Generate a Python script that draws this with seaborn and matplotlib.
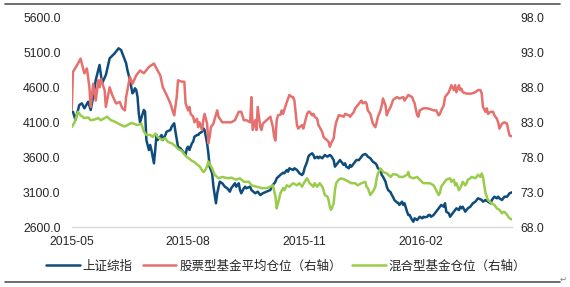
import pandas as pd
import matplotlib
matplotlib.use('Agg')
import matplotlib.pyplot as plt
import seaborn as sns
from matplotlib.lines import Line2D

# ---------------- data ----------------
start_date = '2015-05-01'

index_days = [1, 3, 6, 8, 10, 13, 15, 17, 19, 22, 24, 27, 30, 34, 37, 39, 40, 43, 44, 46, 48, 49, 50, 51, 52, 53, 54,
              57, 58, 59, 61, 62, 63, 65, 66, 67, 68, 70, 71, 72, 74, 75, 78, 79, 81, 82, 84, 86, 88, 90, 91, 92, 93,
              95, 96, 97, 99, 100, 101, 103, 104, 105, 107, 108, 109, 111, 112, 114, 115, 117, 119, 121, 123, 125,
              126, 128, 129, 130, 132, 133, 134, 136, 137, 138, 141, 142, 145, 147, 149, 151, 154, 157, 158, 161,
              162, 165, 167, 168, 170, 171, 172, 175, 176, 178, 179, 180, 182, 183, 184, 186, 187, 188, 190, 191,
              192, 194, 195, 196, 198, 199, 200, 202, 204, 205, 207, 208, 209, 211, 212, 213, 215, 216, 217, 219,
              220, 221, 223, 224, 225, 227, 228, 229, 230, 232, 233, 234, 236, 237, 238, 240, 241, 242, 244, 245,
              246, 248, 249, 250, 252, 253, 254, 255, 257, 258, 259, 261, 262, 263, 265, 266, 267, 269, 270, 271,
              273, 274, 275, 277, 278, 279, 281, 282, 283, 284, 286, 287, 288, 290, 291, 292, 294, 295, 296, 298,
              299, 300, 302, 303, 304, 306, 307, 308, 309, 311, 312, 313, 315, 316, 317, 319, 320, 321, 323, 324,
              325, 327, 328, 329, 331, 332, 333, 334, 336, 337, 338, 340, 341, 342, 344, 345, 346, 348]
index_vals = [4251, 4133, 4347, 4371, 4300, 4394, 4276, 4466, 4704, 4919, 4657, 4776, 5014, 5086, 5157, 5133, 5086,
              4943, 4847, 4704, 4514, 4537, 4586, 4561, 4466, 4229, 4100, 4276, 4251, 3847, 3704, 3776, 3704, 3514,
              3704, 3919, 3847, 3894, 3919, 3847, 3919, 3966, 3990, 4037, 4086, 3966, 3751, 3728, 3680, 3633, 3728,
              3751, 3704, 3800, 3823, 3894, 3919, 3919, 3943, 3966, 4014, 3990, 3800, 3657, 3466, 3371, 3180, 2943,
              3086, 3251, 3229, 3180, 3157, 3109, 3157, 3204, 3229, 3180, 3229, 3133, 3086, 3157, 3180, 3157, 3180,
              3133, 3086, 3109, 3061, 3086, 3109, 3133, 3180, 3251, 3300, 3350, 3380, 3371, 3419, 3394, 3443, 3419,
              3443, 3419, 3394, 3371, 3347, 3371, 3443, 3537, 3609, 3633, 3657, 3633, 3586, 3609, 3586, 3609, 3586,
              3609, 3633, 3609, 3633, 3619, 3561, 3466, 3490, 3537, 3561, 3537, 3490, 3514, 3466, 3443, 3490, 3466,
              3514, 3537, 3561, 3561, 3586, 3609, 3633, 3647, 3633, 3609, 3586, 3561, 3537, 3514, 3490, 3443, 3419,
              3347, 3323, 3251, 3180, 3133, 3100, 3061, 3030, 2990, 2955, 2950, 2920, 2966, 2919, 2943, 2823, 2776,
              2776, 2704, 2680, 2728, 2704, 2728, 2751, 2728, 2751, 2743, 2751, 2776, 2776, 2751, 2776, 2800, 2823,
              2871, 2894, 2919, 2894, 2943, 2823, 2800, 2751, 2776, 2823, 2847, 2871, 2847, 2894, 2871, 2894, 2823,
              2847, 2871, 2894, 2919, 2943, 2966, 2990, 3014, 3000, 2990, 2966, 2990, 2980, 2966, 2943, 2990, 3014,
              3037, 3014, 3037, 3014, 2990, 3014, 3037, 3037, 3061, 3086, 3100]

stock_days = [0, 1, 5, 7, 10, 12, 14, 15, 17, 19, 21, 22, 23, 26, 27, 30, 32, 35, 38, 40, 42, 43, 46, 48, 51, 54, 57,
              61, 65, 67, 70, 72, 75, 78, 80, 81, 83, 84, 87, 89, 90, 92, 93, 94, 96, 97, 99, 100, 101, 103, 104, 105,
              107, 108, 109, 110, 112, 113, 115, 116, 119, 122, 126, 129, 132, 134, 136, 138, 141, 142, 143, 145, 146,
              147, 148, 149, 150, 151, 154, 157, 159, 160, 161, 162, 163, 165, 166, 167, 170, 171, 172, 174, 175,
              176, 178, 179, 180, 182, 183, 186, 187, 188, 190, 191, 192, 194, 195, 196, 198, 199, 200, 202, 203,
              204, 205, 207, 208, 209, 211, 212, 215, 216, 219, 220, 223, 224, 225, 228, 229, 230, 232, 233, 234,
              236, 237, 238, 240, 241, 242, 244, 245, 246, 248, 249, 250, 252, 253, 254, 257, 259, 262, 263, 266,
              269, 270, 271, 273, 274, 275, 278, 281, 283, 286, 288, 290, 291, 292, 294, 295, 298, 299, 300, 302,
              303, 304, 306, 307, 308, 309, 312, 316, 319, 321, 323, 324, 325, 327, 328, 329, 331, 333, 334, 336,
              337, 338, 340, 342, 344, 345, 346, 348]
stock_vals = [84.8, 90.2, 91.4, 92.1, 90.0, 90.7, 88.0, 85.2, 88.5, 86.1, 89.0, 88.0, 89.2, 87.6, 85.2, 88.0, 86.9,
              85.7, 85.9, 85.0, 84.7, 86.6, 89.5, 88.5, 89.7, 90.4, 90.0, 90.9, 91.4, 90.7, 89.7, 88.0, 86.9, 85.7,
              84.5, 84.0, 86.6, 89.0, 88.8, 88.8, 85.7, 84.7, 85.2, 84.2, 83.8, 83.0, 83.5, 82.3, 83.0, 81.9, 83.3,
              84.2, 82.8, 80.0, 80.9, 82.3, 82.8, 83.5, 84.7, 83.8, 83.0, 83.0, 83.0, 83.3, 84.5, 84.5, 83.3, 83.3,
              83.0, 86.6, 81.9, 83.3, 81.9, 85.2, 83.8, 82.3, 81.9, 82.8, 83.3, 83.8, 82.3, 80.9, 80.4, 83.3, 84.0,
              84.1, 84.7, 84.2, 85.9, 86.4, 86.9, 86.6, 86.6, 86.1, 82.6, 82.1, 82.3, 82.6, 82.1, 84.2, 84.5, 84.5,
              84.0, 84.2, 83.8, 83.5, 82.6, 82.3, 81.6, 80.9, 80.7, 80.4, 80.2, 79.5, 80.0, 80.7, 82.1, 83.0, 84.0,
              84.0, 83.8, 84.2, 84.0, 83.8, 84.5, 85.0, 85.2, 85.9, 86.1, 85.7, 85.9, 85.7, 84.7, 84.2, 83.5, 82.8,
              82.3, 83.0, 83.8, 84.7, 85.4, 86.4, 85.4, 84.0, 84.5, 85.2, 85.7, 86.2, 86.6, 86.4, 86.6, 86.1, 86.9,
              86.6, 86.1, 85.7, 84.0, 83.8, 84.7, 85.0, 85.0, 84.9, 84.7, 84.7, 84.0, 84.2, 84.7, 85.4, 86.6, 87.3,
              87.8, 88.3, 87.6, 88.3, 87.3, 88.3, 87.6, 87.8, 87.3, 87.1, 87.1, 87.3, 87.6, 87.6, 87.1, 85.2, 84.5,
              85.0, 84.2, 84.5, 84.5, 84.0, 83.5, 83.0, 82.1, 82.8, 83.0, 82.8, 81.9, 81.1, 81.0]

mixed_days = [0, 2, 5, 7, 10, 13, 15, 18, 21, 23, 26, 28, 31, 34, 36, 39, 42, 44, 47, 49, 52, 55, 57, 59, 62, 64, 66,
              68, 71, 74, 76, 79, 82, 84, 87, 90, 92, 95, 97, 99, 101, 104, 105, 107, 108, 111, 113, 116, 119, 121,
              124, 126, 130, 133, 136, 140, 142, 146, 150, 154, 157, 159, 161, 162, 163, 165, 167, 168, 170, 172,
              175, 178, 180, 182, 184, 186, 188, 191, 192, 194, 196, 198, 199, 200, 202, 203, 204, 205, 207, 208,
              209, 211, 213, 216, 219, 221, 224, 226, 229, 232, 233, 234, 236, 237, 238, 240, 241, 242, 244, 245,
              246, 249, 252, 254, 257, 259, 262, 265, 266, 267, 270, 273, 275, 278, 281, 283, 286, 288, 290, 291,
              292, 294, 296, 299, 300, 302, 303, 304, 306, 307, 308, 309, 311, 312, 313, 315, 316, 319, 320, 321,
              323, 324, 325, 326, 327, 328, 329, 332, 334, 336, 338, 340, 341, 342, 344, 345, 346, 348]
mixed_vals = [82.3, 82.9, 84.5, 84.0, 83.6, 83.7, 83.3, 83.4, 83.6, 83.3, 83.6, 83.8, 83.3, 83.1, 82.9, 82.6, 82.4,
              82.6, 82.9, 82.8, 82.6, 82.8, 81.7, 81.2, 81.2, 80.9, 81.4, 80.9, 80.5, 80.7, 80.2, 80.0, 79.6, 79.2,
              78.9, 78.2, 77.9, 77.5, 77.3, 77.0, 76.7, 75.9, 76.0, 76.7, 77.4, 76.4, 75.5, 75.0, 75.2, 75.1, 75.0,
              75.1, 74.8, 75.0, 74.5, 74.5, 74.0, 73.8, 73.6, 73.6, 73.8, 74.0, 72.4, 70.7, 71.4, 72.9, 73.6, 73.3,
              74.0, 73.8, 74.3, 74.0, 74.3, 73.8, 74.5, 75.0, 74.3, 73.8, 74.3, 73.8, 74.3, 73.8, 73.3, 72.6, 72.4,
              71.9, 70.9, 70.5, 71.4, 73.3, 74.3, 74.8, 75.0, 74.8, 74.5, 74.3, 74.3, 74.0, 74.3, 74.5, 73.8, 73.6,
              72.6, 72.9, 73.1, 73.8, 75.0, 75.7, 76.4, 76.2, 75.9, 75.7, 75.2, 75.6, 75.5, 75.2, 75.2, 75.5, 75.9,
              75.2, 75.0, 75.2, 74.8, 74.3, 74.3, 74.3, 74.0, 73.3, 72.6, 72.9, 73.8, 74.3, 74.8, 75.0, 74.5, 74.8,
              74.0, 74.3, 73.3, 73.6, 74.0, 74.5, 74.0, 74.3, 74.8, 75.0, 75.2, 75.0, 75.2, 75.5, 75.2, 75.7, 75.2,
              74.0, 72.9, 72.4, 71.9, 71.4, 71.2, 70.7, 70.5, 70.0, 70.2, 70.2, 69.8, 69.5, 69.3, 69.1]

series_names = ['上证综指', '股票型基金平均仓位（右轴）', '混合型基金仓位（右轴）']
x_tick_dates = ['2015-05-01', '2015-08-01', '2015-11-01', '2016-02-01']
x_tick_labels = ['2015-05', '2015-08', '2015-11', '2016-02']
left_ticks = [2600, 3100, 3600, 4100, 4600, 5100, 5600]
right_ticks = [68, 73, 78, 83, 88, 93, 98]

# ---------------- style ----------------
BLUE = '#0E4C7C'
RED = '#E5706E'
GREEN = '#99CC4A'
TXT = '#262626'

sns.set_theme(style='white')
plt.rcParams['font.family'] = ['Liberation Sans', 'Noto Sans CJK SC', 'DejaVu Sans']

start = pd.Timestamp(start_date)


def to_frame(days, vals):
    return pd.DataFrame({'date': start + pd.to_timedelta(days, unit='D'), 'value': vals})


df_index = to_frame(index_days, index_vals)
df_stock = to_frame(stock_days, stock_vals)
df_mixed = to_frame(mixed_days, mixed_vals)

W, H = 570, 287
fig = plt.figure(figsize=(W / 100, H / 100), dpi=100)
ax = fig.add_axes([71.7 / W, 59.7 / H, 440 / W, 210 / H])
ax2 = ax.twinx()

LW = 1.8
sns.lineplot(data=df_index, x='date', y='value', ax=ax, color=BLUE, lw=LW,
             estimator=None, legend=False)
sns.lineplot(data=df_stock, x='date', y='value', ax=ax2, color=RED, lw=LW,
             estimator=None, legend=False)
sns.lineplot(data=df_mixed, x='date', y='value', ax=ax2, color=GREEN, lw=LW,
             estimator=None, legend=False)

ax.set_xlim(start, start + pd.Timedelta(days=347.7))
ax.set_ylim(2600, 5600)
ax2.set_ylim(68, 98)

ax.set_xticks([pd.Timestamp(d) for d in x_tick_dates])
ax.set_xticklabels(x_tick_labels)
ax.set_yticks(left_ticks)
ax.set_yticklabels([f'{v:.1f}' for v in left_ticks])
ax2.set_yticks(right_ticks)
ax2.set_yticklabels([f'{v:.1f}' for v in right_ticks])

for a in (ax, ax2):
    a.set_xlabel('')
    a.set_ylabel('')
    a.grid(False)
    for s in a.spines.values():
        s.set_visible(False)
ax.spines['bottom'].set_visible(True)
ax.spines['bottom'].set_color('#D9D9D9')
ax.spines['bottom'].set_linewidth(1.0)

FS = 8.8
ax.tick_params(axis='x', length=0, pad=6.5, labelsize=FS, labelcolor=TXT)
ax.tick_params(axis='y', length=0, pad=8, labelsize=FS, labelcolor=TXT)
ax2.tick_params(axis='y', length=0, pad=6, labelsize=FS, labelcolor=TXT)

handles = [Line2D([], [], color=c, lw=LW) for c in (BLUE, RED, GREEN)]
fig.legend(handles, series_names, loc='center', bbox_to_anchor=(0.502, 20.3 / H), ncol=3,
           frameon=False, fontsize=9, handlelength=2.7, handletextpad=0.25,
           columnspacing=0.8, labelcolor=TXT)

# outer frame lines (top and bottom rules)
fig.add_artist(Line2D([5 / W, 560 / W], [1 - 4 / H, 1 - 4 / H], color='#555555', lw=1.2,
                      transform=fig.transFigure))
fig.add_artist(Line2D([5 / W, 560 / W], [1 - 281.7 / H, 1 - 281.7 / H], color='#555555', lw=1.2,
                      transform=fig.transFigure))
fig.text(563 / W, 1 - 279 / H, '↵', fontsize=6, color='#808080', ha='center', va='center',
         family=['DejaVu Sans'])

fig.savefig('out.png', dpi=100)
